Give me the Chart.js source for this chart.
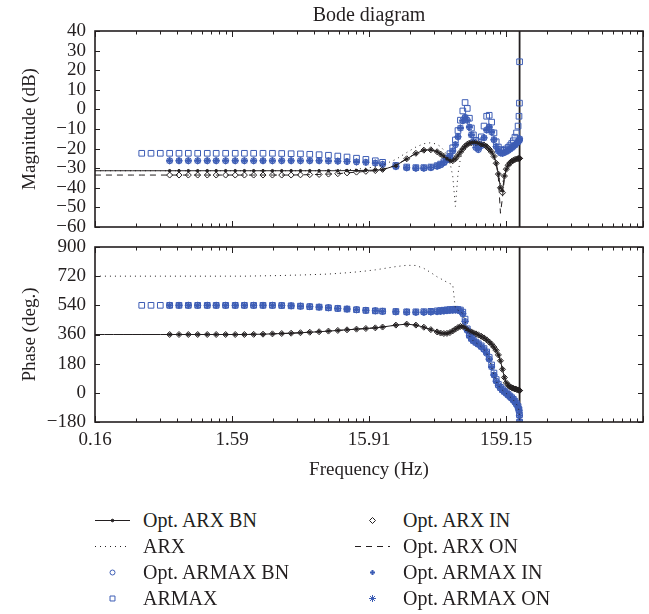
<!DOCTYPE html>
<html>
<head>
<meta charset="utf-8">
<script src="https://cdn.jsdelivr.net/npm/chart.js@4.4.1/dist/chart.umd.min.js"></script>
<style>
  html, body { margin: 0; padding: 0; background: #fff; }
  #wrap { position: relative; width: 649px; height: 614px; font-family: 'Liberation Serif', 'DejaVu Serif', serif; color: #231f20; }
  #mag { position: absolute; left: 0; top: 0; }
  #phase { position: absolute; left: 0; top: 236px; }
  .leg { position: absolute; height: 26px; display: flex; align-items: center; font-size: 20px; white-space: nowrap; }
  .leg canvas { margin-right: 13px; }
</style>
</head>
<body>
<div id="wrap">
  <canvas id="mag" width="649" height="236"></canvas>
  <canvas id="phase" width="649" height="250"></canvas>
</div>
<script>
// frequency grid (Hz)
const freqHz = [0.159, 0.186, 0.218, 0.255, 0.298, 0.349, 0.408, 0.477, 0.558, 0.653,
  0.764, 0.894, 1.05, 1.22, 1.43, 1.68, 1.96, 2.29, 2.68, 3.14,
  3.67, 4.30, 5.03, 5.88, 6.88, 8.05, 9.42, 11.0, 12.9, 15.1,
  17.7, 20, 25, 30, 35, 40, 45, 50, 53, 56,
  59, 62, 65, 68, 71, 74, 77, 80, 83, 86,
  89, 92, 96, 100, 105, 110, 115, 120, 125, 130,
  135, 140, 145, 150, 155, 160, 165, 170, 175, 180,
  185, 190, 195, 198, 199.5, 200];

// magnitude (dB)
const magArxBN = [-31.3, -31.3, -31.3, -31.3, -31.3, -31.3, -31.3, -31.3, -31.3, -31.3,
  -31.3, -31.3, -31.3, -31.3, -31.3, -31.3, -31.3, -31.3, -31.3, -31.3,
  -31.3, -31.3, -31.3, -31.3, -31.3, -31.3, -31.3, -31.2, -31.2, -31.1,
  -31.0, -30.8, -28.6, -25.3, -22.5, -20.8, -20.6, -21.6, -22.8, -24.0,
  -25.2, -26.0, -26.2, -25.2, -23.5, -21.8, -20.2, -18.8, -17.8, -17.2,
  -17.0, -16.9, -17.0, -17.3, -17.7, -18.2, -19.0, -20.3, -21.8, -24.0,
  -27.5, -33.0, -40.0, -41.5, -34.0, -30.5, -28.5, -27.3, -26.5, -26.0,
  -25.6, -25.3, -25.1, -25.0, -25.0, -25.0];
const magArxIN = [-33.5, -33.5, -33.5, -33.5, -33.5, -33.5, -33.5, -33.5, -33.5, -33.5,
  -33.5, -33.5, -33.5, -33.5, -33.5, -33.5, -33.5, -33.5, -33.5, -33.5,
  -33.5, -33.5, -33.4, -33.3, -33.2, -33.0, -32.8, -32.4, -32.0, -31.6,
  -31.2, -30.6, -28.4, -25.2, -22.4, -20.8, -20.6, -21.6, -22.8, -24.0,
  -25.2, -26.0, -26.2, -25.2, -23.5, -21.8, -20.2, -18.8, -17.8, -17.2,
  -17.0, -16.9, -17.0, -17.3, -17.7, -18.2, -19.0, -20.3, -21.8, -24.0,
  -27.5, -33.0, -40.0, -42.5, -34.0, -30.5, -28.5, -27.3, -26.5, -26.0,
  -25.6, -25.3, -25.1, -25.0, -25.0, -25.0];
const magArxON = [-33.5, -33.5, -33.5, -33.5, -33.5, -33.5, -33.5, -33.5, -33.5, -33.5,
  -33.5, -33.5, -33.5, -33.5, -33.5, -33.5, -33.5, -33.5, -33.5, -33.5,
  -33.5, -33.5, -33.4, -33.3, -33.2, -33.0, -32.8, -32.4, -32.0, -31.6,
  -31.2, -30.6, -28.4, -25.2, -22.4, -20.8, -20.6, -21.6, -22.8, -24.0,
  -25.2, -26.0, -26.2, -25.2, -23.5, -21.8, -20.2, -18.8, -17.8, -17.2,
  -17.0, -16.9, -17.0, -17.3, -17.7, -18.2, -19.0, -20.3, -21.8, -24.0,
  -27.5, -35.0, -53.0, -45.0, -35.0, -30.5, -28.5, -27.3, -26.5, -26.0,
  -25.6, -25.3, -25.1, -25.0, -25.0, -25.0];
const magArx = [-31.3, -31.3, -31.3, -31.3, -31.3, -31.3, -31.3, -31.3, -31.3, -31.3,
  -31.3, -31.3, -31.3, -31.3, -31.3, -31.3, -31.3, -31.3, -31.3, -31.3,
  -31.3, -31.3, -31.3, -31.3, -31.3, -31.2, -31.0, -30.8, -30.5, -30.0,
  -29.3, -28.4, -25.5, -22.0, -19.2, -17.5, -17.0, -17.8, -19.0, -20.8,
  -23.3, -27.0, -34.0, -49.5, -33.0, -25.0, -21.0, -19.0, -17.8, -17.2,
  -17.0, -16.9, -17.0, -17.3, -17.7, -18.2, -19.0, -20.3, -21.8, -24.0,
  -27.5, -32.0, -38.0, -38.0, -33.0, -30.5, -28.5, -27.3, -26.5, -26.0,
  -25.6, -25.3, -25.1, -25.0, -25.0, -25.0];
const magArmaxOpt = [-26.2, -26.2, -26.2, -26.2, -26.2, -26.2, -26.2, -26.2, -26.2, -26.2,
  -26.2, -26.2, -26.2, -26.2, -26.2, -26.2, -26.2, -26.2, -26.2, -26.2,
  -26.2, -26.2, -26.2, -26.2, -26.2, -26.3, -26.4, -26.6, -26.8, -27.0,
  -27.4, -28.0, -29.2, -29.8, -30.0, -30.0, -29.7, -29.0, -28.3, -27.2,
  -25.8, -23.8, -21.2, -18.0, -14.0, -9.5, -5.8, -4.0, -5.5, -9.0,
  -13.0, -16.5, -19.5, -20.5, -18.5, -14.5, -10.5, -9.0, -11.5, -15.5,
  -19.0, -21.2, -22.2, -22.4, -22.0, -21.5, -21.0, -20.3, -19.6, -19.0,
  -18.2, -17.4, -16.6, -16.0, -15.6, -15.0];
const magArmax = [-22.4, -22.4, -22.4, -22.4, -22.4, -22.4, -22.4, -22.4, -22.4, -22.4,
  -22.4, -22.4, -22.4, -22.4, -22.4, -22.4, -22.4, -22.4, -22.4, -22.4,
  -22.5, -22.6, -22.7, -22.9, -23.1, -23.4, -23.8, -24.3, -24.9, -25.5,
  -26.2, -27.0, -28.6, -29.4, -29.7, -29.7, -29.4, -28.7, -27.9, -26.7,
  -25.0, -22.6, -19.6, -15.6, -10.8, -5.5, -0.8, 3.5, 0.5, -4.5,
  -9.5, -13.0, -15.8, -16.5, -14.0, -8.5, -3.5, -3.0, -6.5, -12.0,
  -16.5, -19.2, -20.5, -21.0, -20.8, -20.2, -19.4, -18.5, -17.4, -16.0,
  -14.2, -12.0, -8.5, -3.5, 3.2, 24.3];

// phase (deg.)
const phArxOpt = [360, 360, 360, 360, 360, 360, 360, 360, 360, 360,
  360, 360, 360, 360, 360, 360, 360, 361, 362, 364,
  366, 368, 371, 374, 377, 381, 385, 389, 393, 397,
  401, 406, 418, 424, 418, 405, 390, 376, 369, 366,
  367, 372, 382, 393, 403, 410, 410, 402, 392, 383,
  376, 370, 364, 358, 349, 339, 327, 314, 300, 282,
  262, 234, 198, 145, 95, 62, 46, 38, 32, 28,
  24, 21, 18, 16, 15, 14];
const phArx = [720, 720, 720, 720, 720, 720, 720, 720, 720, 720,
  720, 720, 720, 720, 720, 720, 720, 721, 722, 723,
  724, 726, 727, 729, 731, 733, 737, 741, 746, 752,
  759, 766, 779, 787, 786, 768, 742, 716, 705, 693,
  683, 674, 668, 520, 510, 505, 488, 440, 385, 352,
  333, 320, 309, 299, 284, 267, 244, 208, 160, 110,
  72, 45, 29, 16, 6, -4, -14, -24, -34, -44,
  -57, -71, -89, -108, -140, -180];
const phArmaxOpt = [540, 540, 540, 540, 540, 540, 540, 540, 540, 540,
  540, 540, 540, 540, 540, 540, 540, 540, 540, 540,
  539, 537, 535, 532, 529, 525, 521, 517, 513, 509,
  506, 503, 500, 498, 497, 497, 499, 501, 503, 505,
  507, 509, 510, 511, 510, 505, 488, 440, 385, 352,
  333, 320, 309, 299, 284, 267, 244, 208, 160, 110,
  72, 45, 29, 16, 6, -4, -14, -24, -34, -44,
  -57, -71, -89, -108, -140, -180];
const phArmax = [540, 540, 540, 540, 540, 540, 540, 540, 540, 540,
  540, 540, 540, 540, 540, 540, 540, 540, 540, 540,
  539, 537, 535, 532, 529, 525, 521, 517, 513, 509,
  506, 504, 502, 500, 500, 501, 503, 506, 508, 510,
  512, 514, 515, 516, 515, 511, 498, 455, 395, 358,
  338, 325, 313, 303, 290, 273, 252, 218, 172, 122,
  82, 52, 34, 20, 10, 0, -10, -20, -30, -40,
  -52, -66, -84, -104, -135, -180];

// axes
const fMin = 0.15915, fMax = 1591.5, nyquistHz = 200;
const decadesHz = [0.15915, 1.5915, 15.915, 159.15, 1591.5];
const xTickLabels = ['0.16', '1.59', '15.91', '159.15', ''];
const magRange = [-60, 40, 10];
const phaseRange = [-180, 900, 180];

const ink = '#231f20';
const blue = '#3d5db5';
const clear = 'rgba(0,0,0,0)';
const family = "'Liberation Serif', 'DejaVu Serif', serif";
Chart.defaults.font.family = family;
Chart.defaults.color = ink;

const series = [
  { label: 'Opt. ARX BN', mag: magArxBN, phase: phArxOpt, from: 0, color: ink, line: 1, point: 'circle', radius: 1.3, fill: ink, dotsFrom: 8 },
  { label: 'ARX', mag: magArx, phase: phArx, from: 0, color: ink, line: 1, dash: [1, 4] },
  { label: 'Opt. ARMAX BN', mag: magArmaxOpt, phase: phArmaxOpt, from: 8, color: blue, point: 'circle', radius: 3, legendRadius: 2.5 },
  { label: 'ARMAX', mag: magArmax, phase: phArmax, from: 5, color: blue, point: 'rect', radius: 4, legendRadius: 3.5 },
  { label: 'Opt. ARX IN', mag: magArxIN, phase: phArxOpt, from: 8, color: ink, point: 'rectRot', radius: 3 },
  { label: 'Opt. ARX ON', mag: magArxON, phase: phArxOpt, from: 0, color: ink, line: 1, dash: [6, 5] },
  { label: 'Opt. ARMAX IN', mag: magArmaxOpt, phase: phArmaxOpt, from: 8, color: blue, point: 'cross', radius: 3, pointWidth: 2, legendRadius: 2.5 },
  { label: 'Opt. ARMAX ON', mag: magArmaxOpt, phase: phArmaxOpt, from: 8, color: blue, point: 'star', radius: 3.5 }
];

// log ticks 1..9 per decade, labels only on the decades
const xTicks = [];
decadesHz.forEach((d, k) => {
  for (let m = 1; m <= 9; m++) {
    if (d * m > fMax * 1.0001) break;
    xTicks.push({ value: d * m, major: m === 1, label: m === 1 ? xTickLabels[k] : '' });
  }
});

// inward ticks on all four sides + frame, like the MATLAB box
const boxTicks = {
  id: 'boxTicks',
  afterDatasetsDraw(chart) {
    const { ctx, chartArea: a, scales: { x, y } } = chart;
    ctx.save();
    ctx.strokeStyle = ink;
    ctx.lineWidth = 1;
    ctx.beginPath();
    xTicks.forEach(t => {
      const px = Math.round(x.getPixelForValue(t.value)) + 0.5;
      const len = t.major ? 6 : 3.5;
      ctx.moveTo(px, a.top); ctx.lineTo(px, a.top + len);
      ctx.moveTo(px, a.bottom); ctx.lineTo(px, a.bottom - len);
    });
    y.ticks.forEach(t => {
      const py = Math.round(y.getPixelForValue(t.value)) + 0.5;
      ctx.moveTo(a.left, py); ctx.lineTo(a.left + 5, py);
      ctx.moveTo(a.right, py); ctx.lineTo(a.right - 5, py);
    });
    ctx.stroke();
    ctx.lineWidth = 1.6;
    ctx.strokeRect(a.left, a.top, a.right - a.left, a.bottom - a.top);
    ctx.restore();
  }
};

function buildDatasets(key, range) {
  const sets = series.map(s => ({
    label: s.label,
    data: freqHz.map((f, i) => ({ x: f, y: s[key][i] })).slice(s.from),
    borderColor: s.color,
    backgroundColor: s.fill || clear,
    showLine: !!s.line,
    borderWidth: s.line || 0,
    borderDash: s.dash || [],
    pointStyle: s.point || 'circle',
    pointRadius: s.point ? (c => (c.dataIndex + s.from >= (s.dotsFrom || 0) ? s.radius : 0)) : 0,
    pointBorderWidth: s.pointWidth || 1,
    pointBorderColor: s.color,
    pointBackgroundColor: s.fill || clear,
    tension: 0
  }));
  sets.push({
    label: 'Nyquist',
    data: [{ x: nyquistHz, y: range[0] }, { x: nyquistHz, y: range[1] }],
    borderColor: ink, borderWidth: 1.8, pointRadius: 0
  });
  return sets;
}

function xScale(showLabels) {
  return {
    type: 'logarithmic', min: fMin, max: fMax,
    afterBuildTicks: s => { s.ticks = xTicks.map(t => ({ value: t.value, major: t.major })); },
    ticks: {
      display: showLabels, autoSkip: false, maxRotation: 0, padding: 7,
      font: { size: 19 },
      callback: (v, i) => xTicks[i] ? xTicks[i].label : ''
    },
    grid: { display: false, drawTicks: false },
    border: { display: false },
    title: { display: showLabels, text: 'Frequency (Hz)', font: { size: 19 }, padding: { top: 0, bottom: 5 } },
    afterFit: s => { s.height = showLabels ? 64 : 0; s.paddingLeft = 0; s.paddingRight = 0; }
  };
}

function yScale(range, title) {
  return {
    min: range[0], max: range[1],
    ticks: {
      stepSize: range[2], autoSkip: false, padding: 9, font: { size: 19 },
      callback: v => v < 0 ? '\u2212' + (-v) : String(v)
    },
    grid: { display: false, drawTicks: false },
    border: { display: false },
    title: { display: true, text: title, font: { size: 19 }, padding: { top: 19, bottom: 0 } },
    afterFit: s => { s.width = 95; s.paddingTop = 0; s.paddingBottom = 0; }
  };
}

new Chart(document.getElementById('mag'), {
  type: 'line',
  data: { datasets: buildDatasets('mag', magRange) },
  options: {
    responsive: false, animation: false,
    layout: { padding: { left: 0, right: 2, top: 0, bottom: 9 } },
    plugins: {
      legend: { display: false }, tooltip: { enabled: false },
      title: { display: true, text: 'Bode diagram', fullSize: false, font: { size: 20, weight: 'normal' }, padding: { top: 4, bottom: 3 } }
    },
    scales: { x: xScale(false), y: yScale(magRange, 'Magnitude (dB)') }
  },
  plugins: [boxTicks]
});

new Chart(document.getElementById('phase'), {
  type: 'line',
  data: { datasets: buildDatasets('phase', phaseRange) },
  options: {
    responsive: false, animation: false,
    layout: { padding: { left: 0, right: 2, top: 11, bottom: 0 } },
    plugins: { legend: { display: false }, tooltip: { enabled: false } },
    scales: { x: xScale(true), y: yScale(phaseRange, 'Phase (deg.)') }
  },
  plugins: [boxTicks]
});

// two-column legend below the plots
const wrap = document.getElementById('wrap');
series.forEach((s, i) => {
  const item = document.createElement('div');
  item.className = 'leg';
  item.style.left = (i < 4 ? 95 : 355) + 'px';
  item.style.top = (507 + (i % 4) * 26) + 'px';
  const cv = document.createElement('canvas');
  cv.width = 35; cv.height = 20;
  const c = cv.getContext('2d');
  c.strokeStyle = s.color;
  c.fillStyle = s.fill || clear;
  if (s.line) {
    c.lineWidth = s.line;
    c.setLineDash(s.dash || []);
    c.beginPath(); c.moveTo(0, 10.5); c.lineTo(35, 10.5); c.stroke();
    c.setLineDash([]);
  }
  if (s.point) {
    c.lineWidth = s.pointWidth || 1;
    Chart.helpers.drawPoint(c, { pointStyle: s.point, radius: s.legendRadius || s.radius, borderWidth: c.lineWidth, rotation: 0 }, 17.5, 10.5);
  }
  const txt = document.createElement('span');
  txt.textContent = s.label;
  item.appendChild(cv);
  item.appendChild(txt);
  wrap.appendChild(item);
});
</script>
</body>
</html>
